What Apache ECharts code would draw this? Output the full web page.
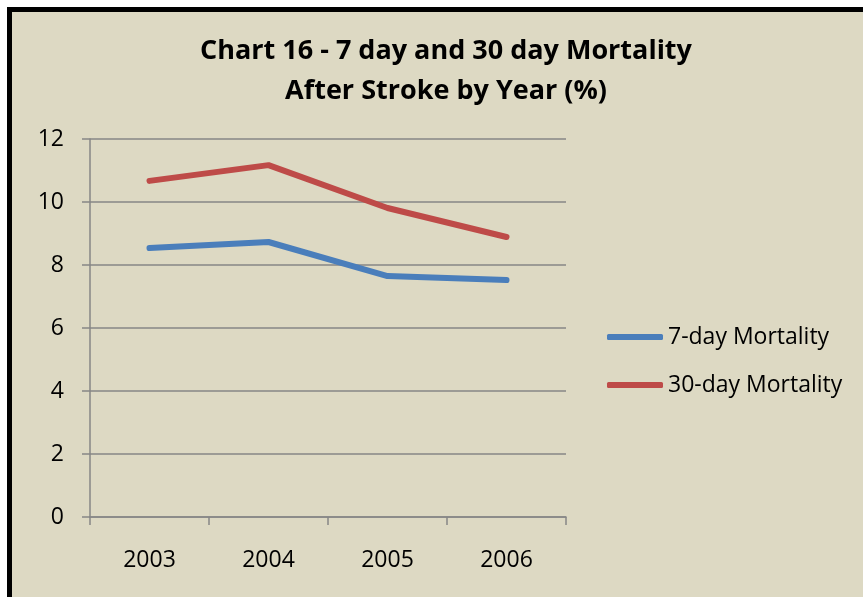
<!DOCTYPE html>
<html>
<head>
<meta charset="utf-8">
<script src="https://cdn.jsdelivr.net/npm/echarts@6/dist/echarts.min.js"></script>
<style>
	body { margin: 0; background: #fff; overflow: hidden; }
	#frame { position: absolute; left: 7px; top: 7px; width: 900px; height: 700px; background: #ddd9c3; border-left: 5px solid #000; border-top: 5px solid #000; }
	#chart { position: absolute; left: 0; top: 0; width: 863px; height: 597px; }
</style>
</head>
<body>
<div id="frame"></div>
<div id="chart"></div>
<script>
	// 年份和两条曲线
	var years = ['2003', '2004', '2005', '2006']
	var mort7 = [8.54, 8.73, 7.65, 7.52]
	var mort30 = [10.67, 11.17, 9.81, 8.89]
	var yTicks = { min: 0, max: 12, interval: 2 }

	var gridColor = '#868686'
	var font = 'Open Sans'

	var dom = echarts.init(document.getElementById('chart'))
	var option = {
		backgroundColor: 'transparent',
		title: {
			text: 'Chart 16 - 7 day and 30 day Mortality\nAfter Stroke by Year (%)',
			left: 441,
			top: 26,
			textAlign: 'center',
			textStyle: {
				fontFamily: font,
				fontWeight: 'bold',
				fontSize: 27,
				lineHeight: 40,
				color: '#000'
			}
		},
		legend: {
			orient: 'vertical',
			left: 602,
			top: 319,
			icon: 'roundRect',
			itemWidth: 56,
			itemHeight: 6,
			itemGap: 22,
			textStyle: {
				fontFamily: font,
				fontSize: 23,
				lineHeight: 26,
				color: '#000'
			},
			data: ['7-day Mortality', '30-day Mortality']
		},
		grid: {
			left: 90,
			right: 297,
			top: 139,
			bottom: 80
		},
		xAxis: {
			type: 'category',
			data: years,
			boundaryGap: true,
			axisLine: { lineStyle: { color: gridColor, width: 1.5 } },
			axisTick: { show: true, length: 8, lineStyle: { color: gridColor, width: 1.5 } },
			axisLabel: {
				margin: 32,
				fontFamily: font,
				fontSize: 23,
				color: '#000'
			},
			splitLine: { show: false }
		},
		yAxis: {
			type: 'value',
			min: yTicks.min,
			max: yTicks.max,
			interval: yTicks.interval,
			axisLine: { show: true, lineStyle: { color: gridColor, width: 1.5 } },
			axisTick: { show: true, length: 8, lineStyle: { color: gridColor, width: 1.5 } },
			axisLabel: {
				margin: 26,
				fontFamily: font,
				fontSize: 23,
				color: '#000'
			},
			splitLine: { show: true, lineStyle: { color: gridColor, width: 1.5 } }
		},
		series: [{
				name: '7-day Mortality',
				type: 'line',
				data: mort7,
				symbol: 'none',
				itemStyle: { color: '#4a7ebb' },
				lineStyle: { color: '#4a7ebb', width: 6, cap: 'round', join: 'round' }
			},
			{
				name: '30-day Mortality',
				type: 'line',
				data: mort30,
				symbol: 'none',
				itemStyle: { color: '#be4b48' },
				lineStyle: { color: '#be4b48', width: 6, cap: 'round', join: 'round' }
			}
		]
	}
	dom.setOption(option)
</script>
</body>
</html>
